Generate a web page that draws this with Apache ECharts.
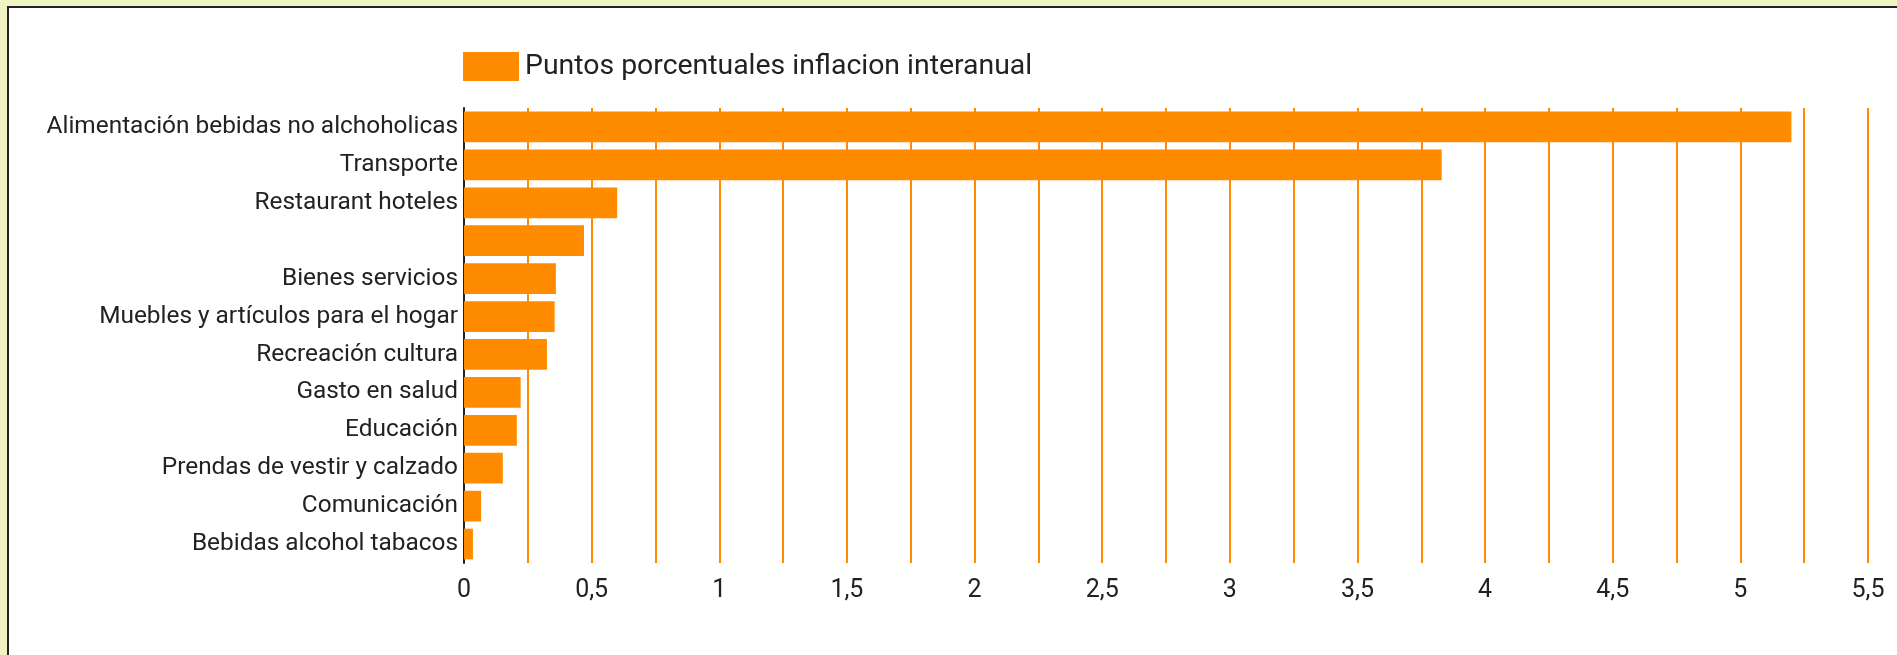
<!DOCTYPE html>
<html>
<head>
<meta charset="utf-8">
<script src="https://cdn.jsdelivr.net/npm/echarts@6/dist/echarts.min.js"></script>
<style>
  html, body { margin: 0; padding: 0; width: 1897px; height: 655px; overflow: hidden; background: #f0f4c3; }
  #box { position: absolute; left: 7px; top: 6px; width: 2000px; height: 1000px; border: 2px solid #222; background: #fff; }
  #chart { position: absolute; left: 0; top: 0; width: 1897px; height: 655px; }
</style>
</head>
<body>
<div id="box"></div>
<div id="chart"></div>
<script>
const categories = [
  'Alimentación bebidas no alchoholicas',
  'Transporte',
  'Restaurant hoteles',
  '',
  'Bienes servicios',
  'Muebles y artículos para el hogar',
  'Recreación cultura',
  'Gasto en salud',
  'Educación',
  'Prendas de vestir y calzado',
  'Comunicación',
  'Bebidas alcohol tabacos'
];
const values = [5.2, 3.83, 0.6, 0.47, 0.36, 0.355, 0.325, 0.222, 0.207, 0.152, 0.067, 0.035];
const seriesName = 'Puntos porcentuales inflacion interanual';
const tickLabels = ['0', '0,5', '1', '1,5', '2', '2,5', '3', '3,5', '4', '4,5', '5', '5,5'];

const orange = '#ff8c00';
const textColor = '#222';
const font = 'Roboto';

const chart = echarts.init(document.getElementById('chart'));
chart.setOption({
  animation: false,
  textStyle: { fontFamily: font },
  legend: {
    left: 463,
    top: 52,
    padding: 0,
    itemWidth: 56,
    itemHeight: 29,
    itemGap: 10,
    icon: 'rect',
    textStyle: { fontFamily: font, fontSize: 28.4, color: textColor, padding: [6, 0, 0, 1] },
    data: [seriesName]
  },
  grid: {
    left: 464,
    right: 29,
    top: 108,
    bottom: 92,
    outerBoundsMode: 'none'
  },
  xAxis: {
    type: 'value',
    min: 0,
    max: 5.5,
    interval: 0.25,
    axisLine: { show: false },
    axisTick: { show: false },
    splitLine: { show: true, lineStyle: { color: orange, width: 2 } },
    axisLabel: {
      margin: 15,
      fontFamily: font,
      fontSize: 25,
      color: textColor,
      formatter: function (v) {
        const k = Math.round(v * 4);
        if (k % 2 !== 0) return '';
        return tickLabels[k / 2];
      }
    }
  },
  yAxis: {
    type: 'category',
    inverse: true,
    data: categories,
    axisLine: { show: true, lineStyle: { color: textColor, width: 2 } },
    axisTick: { show: false },
    splitLine: { show: false },
    axisLabel: {
      margin: 6,
      fontFamily: font,
      fontSize: 24.4,
      color: textColor,
      interval: 0,
      padding: [7, 0, 0, 0]
    }
  },
  series: [
    {
      name: seriesName,
      type: 'bar',
      data: values,
      barCategoryGap: '19%',
      itemStyle: { color: orange }
    }
  ]
});
</script>
</body>
</html>
